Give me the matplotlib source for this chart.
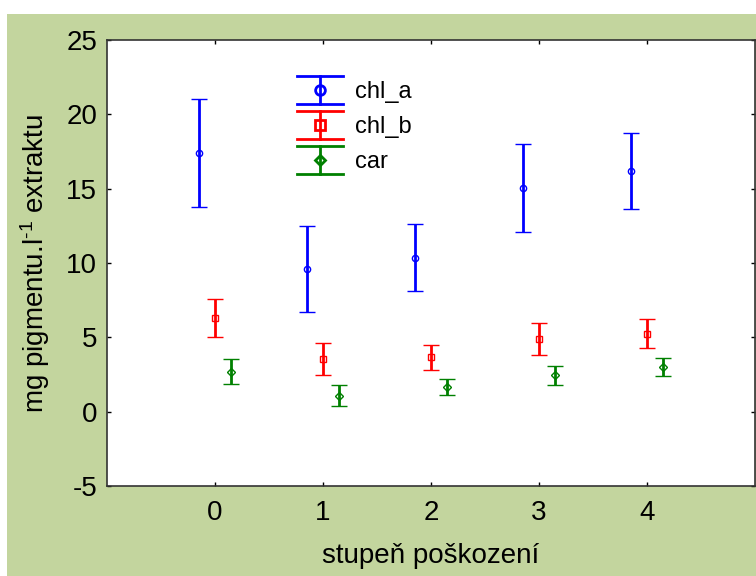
import matplotlib
matplotlib.use('Agg')
import matplotlib.pyplot as plt
from matplotlib.patches import Rectangle
from matplotlib.lines import Line2D
from matplotlib.legend_handler import HandlerBase
from matplotlib.container import ErrorbarContainer
import numpy as np

plt.rcParams['font.family'] = ['Liberation Sans', 'DejaVu Sans']
plt.rcParams['mathtext.fontset'] = 'custom'
plt.rcParams['mathtext.rm'] = 'Liberation Sans'
plt.rcParams['mathtext.it'] = 'Liberation Sans:italic'
plt.rcParams['axes.unicode_minus'] = False

# data
stupen = [0, 1, 2, 3, 4]
chl_a = [17.4, 9.6, 10.35, 15.05, 16.2]
chl_a_err = [3.6, 2.9, 2.25, 2.95, 2.55]
chl_b = [6.3, 3.55, 3.65, 4.9, 5.25]
chl_b_err = [1.3, 1.1, 0.85, 1.07, 0.95]
car = [2.7, 1.08, 1.65, 2.45, 3.02]
car_err = [0.83, 0.7, 0.53, 0.65, 0.6]

green_bg = '#c3d59e'

fig = plt.figure(figsize=(7.56, 5.76), dpi=100)
fig.patch.set_facecolor('white')
fig.patches.append(Rectangle((7/756, 0), 1, 1 - 14/576, transform=fig.transFigure,
                             facecolor=green_bg, edgecolor='none', zorder=-10))

ax = fig.add_axes([107/756, 90/576, 648/756, 446/576])
ax.set_facecolor('white')

x = np.array(stupen, dtype=float)
series = [
    (x - 0.15, chl_a, chl_a_err, 'blue', 'o', 4.5, 'chl_a'),
    (x, chl_b, chl_b_err, 'red', 's', 5, 'chl_b'),
    (x + 0.15, car, car_err, 'green', 'D', 4, 'car'),
]
handles = []
for xs, ys, es, col, mk, ms, lab in series:
    h = ax.errorbar(xs, ys, yerr=es, fmt=mk, color=col, ecolor=col, ms=ms,
                    mfc='none', mec=col, mew=1, elinewidth=2, capsize=6,
                    capthick=2, label=lab)
    handles.append(h)


class ErrHandler(HandlerBase):
    def create_artists(self, legend, orig_handle, xdescent, ydescent,
                       width, height, fontsize, trans):
        line = orig_handle.lines[0]
        col = line.get_color()
        mk = line.get_marker()
        x0, x1 = -xdescent, -xdescent + width
        y0, y1 = -ydescent, -ydescent + height
        xc, yc = (x0 + x1) / 2, (y0 + y1) / 2
        arts = [
            Line2D([x0, x1], [y1, y1], color=col, lw=2),
            Line2D([x0, x1], [y0, y0], color=col, lw=2),
            Line2D([xc, xc], [y0, y1], color=col, lw=2),
            Line2D([xc], [yc], marker=mk, color=col, mfc='none', mec=col,
                   mew=2, ms=7 if mk != 'D' else 5.5),
        ]
        for a in arts:
            a.set_transform(trans)
        return arts


ax.legend(handles=handles, handler_map={ErrorbarContainer: ErrHandler()},
          loc='upper left', bbox_to_anchor=(297/756, 1 - 76/576),
          bbox_transform=fig.transFigure, frameon=False, fontsize=17,
          handlelength=1.95, handleheight=1.45, labelspacing=0.3,
          handletextpad=0.5, borderpad=0, borderaxespad=0)

ax.set_xlim(-1, 5)
ax.set_ylim(-5, 25)
ax.set_xticks(stupen)
ax.set_yticks([-5, 0, 5, 10, 15, 20, 25])
ax.tick_params(direction='in', length=3, width=1, top=True, right=True,
               labelsize=20)
ax.tick_params(axis='x', pad=10)
ax.tick_params(axis='y', pad=7)
for s in ax.spines.values():
    s.set_linewidth(1.2)
    s.set_color('#333333')

ax.set_xlabel('stupeň poškození', fontsize=20, labelpad=12)
ax.set_ylabel(r'mg pigmentu.l$^{\text{-}1}$ extraktu', fontsize=20)
ax.yaxis.set_label_coords(-0.085, 0.5)

fig.savefig('out.png', dpi=100, facecolor=fig.get_facecolor())
